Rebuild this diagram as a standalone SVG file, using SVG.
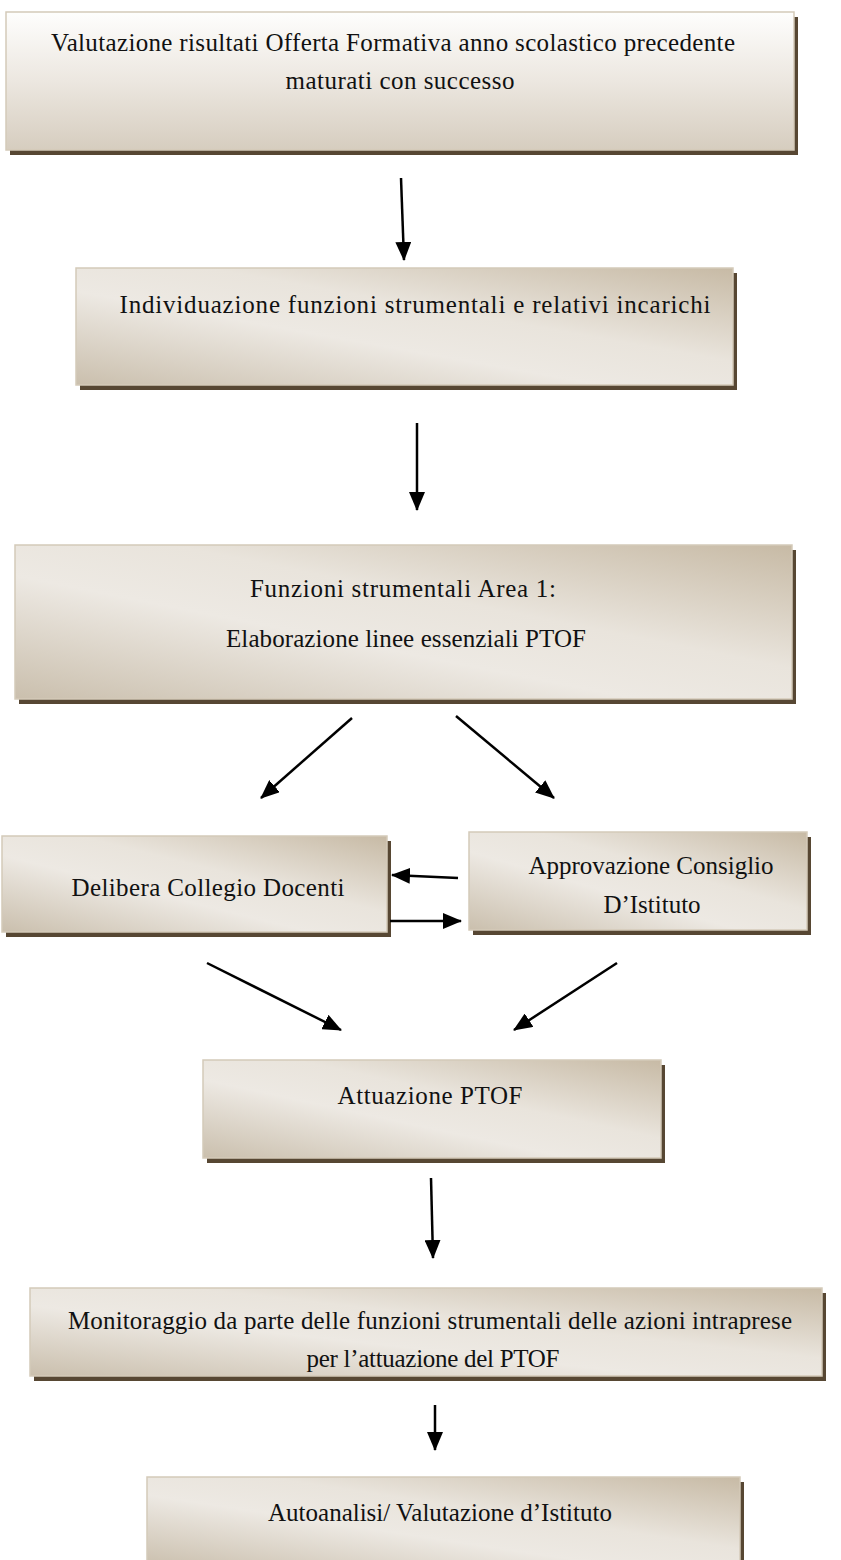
<svg xmlns="http://www.w3.org/2000/svg" width="841" height="1560" viewBox="0 0 841 1560">
<defs>
<linearGradient id="gTop" x1="0" y1="0" x2="0" y2="1">
<stop offset="0" stop-color="#fefefd"/>
<stop offset="0.5" stop-color="#ece7e0"/>
<stop offset="1" stop-color="#d6cdbf"/>
</linearGradient>
<linearGradient id="gDiag" x1="1" y1="0" x2="0" y2="1">
<stop offset="0" stop-color="#c7baa5"/>
<stop offset="0.4" stop-color="#e9e4dc"/>
<stop offset="0.6" stop-color="#ede9e3"/>
<stop offset="1" stop-color="#cabfad"/>
</linearGradient>
<marker id="ah" markerUnits="userSpaceOnUse" markerWidth="20" markerHeight="16" refX="18" refY="8" orient="auto">
<path d="M0,0 L19,8 L0,16 Z" fill="#000"/>
</marker>
</defs>
<style>
.sh{fill:#574733}
.bx{fill:url(#gDiag);stroke:#d4cab9;stroke-width:1.5}
.b1{fill:url(#gTop);stroke:#d4cab9;stroke-width:1.5}
.t{font-family:"Liberation Serif","DejaVu Serif",serif;font-size:25px;fill:#111;text-anchor:middle}
.ar{stroke:#000;stroke-width:2.5;fill:none;marker-end:url(#ah)}
</style>

<g id="n1">
<rect class="sh" x="10" y="17" width="788" height="138"/>
<rect class="b1" x="6" y="12" width="788" height="138"/>
<text class="t" x="393" y="51" textLength="684">Valutazione risultati Offerta Formativa anno scolastico precedente</text>
<text class="t" x="400" y="89" textLength="229">maturati con successo</text>
</g>

<g id="n2">
<rect class="sh" x="80" y="273" width="657" height="117"/>
<rect class="bx" x="76" y="268" width="657" height="117"/>
<text class="t" x="415" y="313" textLength="591">Individuazione funzioni strumentali e relativi incarichi</text>
</g>

<g id="n3">
<rect class="sh" x="19" y="550" width="777" height="154"/>
<rect class="bx" x="15" y="545" width="777" height="154"/>
<text class="t" x="403" y="597" textLength="306">Funzioni strumentali Area 1:</text>
<text class="t" x="406" y="647" textLength="360">Elaborazione linee essenziali PTOF</text>
</g>

<g id="n4">
<rect class="sh" x="6" y="841" width="385" height="96"/>
<rect class="bx" x="2" y="836" width="385" height="96"/>
<text class="t" x="208" y="896" textLength="273">Delibera Collegio Docenti</text>
</g>

<g id="n5">
<rect class="sh" x="473" y="837" width="338" height="98"/>
<rect class="bx" x="469" y="832" width="338" height="98"/>
<text class="t" x="651" y="874">Approvazione Consiglio</text>
<text class="t" x="652" y="913">D’Istituto</text>
</g>

<g id="n6">
<rect class="sh" x="207" y="1065" width="458" height="98"/>
<rect class="bx" x="203" y="1060" width="458" height="98"/>
<text class="t" x="430" y="1104" textLength="185">Attuazione PTOF</text>
</g>

<g id="n7">
<rect class="sh" x="34" y="1293" width="792" height="88"/>
<rect class="bx" x="30" y="1288" width="792" height="88"/>
<text class="t" x="430" y="1329" textLength="724">Monitoraggio da parte delle funzioni strumentali delle azioni intraprese</text>
<text class="t" x="433" y="1367" textLength="253">per l’attuazione del PTOF</text>
</g>

<g id="n8">
<rect class="sh" x="151" y="1482" width="593" height="90"/>
<rect class="bx" x="147" y="1477" width="593" height="90"/>
<text class="t" x="440" y="1521">Autoanalisi/ Valutazione d’Istituto</text>
</g>

<g id="connectors">
<line class="ar" x1="401" y1="178" x2="404" y2="260"/>
<line class="ar" x1="417" y1="423" x2="417" y2="510"/>
<line class="ar" x1="352" y1="718" x2="261" y2="798"/>
<line class="ar" x1="456" y1="716" x2="554" y2="798"/>
<line class="ar" x1="458" y1="878" x2="392" y2="875"/>
<line class="ar" x1="390" y1="921" x2="461" y2="921"/>
<line class="ar" x1="207" y1="963" x2="341" y2="1030"/>
<line class="ar" x1="617" y1="963" x2="514" y2="1030"/>
<line class="ar" x1="431" y1="1178" x2="433" y2="1258"/>
<line class="ar" x1="435" y1="1405" x2="435" y2="1450"/>
</g>
</svg>
